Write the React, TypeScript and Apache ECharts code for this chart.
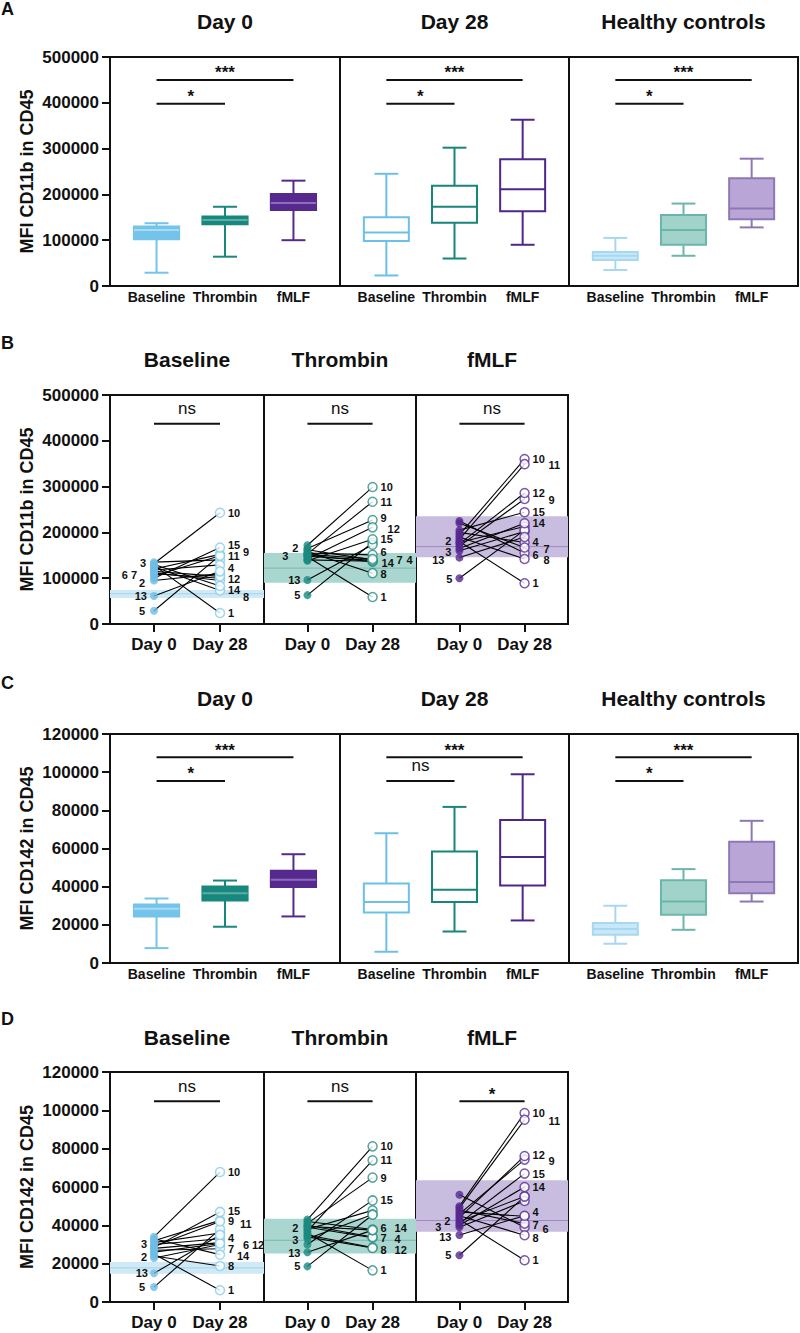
import React, { useEffect, useRef } from 'react';
import * as echarts from 'echarts';

// ---------- categories / text ----------
const stimuli = ['Baseline', 'Thrombin', 'fMLF'];
const timepoints = ['Day 0', 'Day 28'];
const boxGroups = ['Day 0', 'Day 28', 'Healthy controls'];
const cd11bName = 'MFI CD11b in CD45';
const cd142Name = 'MFI CD142 in CD45';

// ---------- box statistics [min, Q1, median, Q3, max], order Baseline, Thrombin, fMLF ----------
const cd11bDay0Box = [
  [29000, 102000, 122000, 130000, 137000],
  [64000, 135000, 144000, 152000, 173000],
  [100000, 166000, 181000, 201000, 230000],
];
const cd11bDay28Box = [
  [23000, 98000, 117000, 150000, 245000],
  [60000, 138000, 173000, 219000, 302000],
  [90000, 163000, 211000, 277000, 363000],
];
const cd11bHCBox = [
  [35000, 57000, 66000, 74000, 105000],
  [66000, 90000, 122000, 155000, 180000],
  [128000, 146000, 169000, 235000, 278000],
];
const cd142Day0Box = [
  [7800, 24400, 28400, 30700, 33800],
  [19000, 32800, 36600, 40100, 43200],
  [24400, 39800, 43600, 48300, 57000],
];
const cd142Day28Box = [
  [5900, 26500, 31900, 41700, 68000],
  [16500, 31900, 38400, 58400, 81800],
  [22300, 40600, 55500, 75000, 98900],
];
const cd142HCBox = [
  [10100, 14800, 17800, 20900, 30000],
  [17400, 25300, 32200, 43400, 49200],
  [32200, 36600, 42500, 63500, 74500],
];

// ---------- paired patient values (index 0 = patient 1) ----------
const cd11bBaselineDay0 = [128000, 95000, 135000, 118000, 29000, 110000, 112000, 125000, 120000, 132000, 105000, 115000, 61000, 130000, 100000];
const cd11bBaselineDay28 = [24000, 110000, 140000, 129000, 150000, 100000, 95000, 73000, 152000, 243000, 149000, 104000, 115000, 83000, 167000];
const cd11bThrombinDay0 = [147000, 162000, 150000, 140000, 63000, 155000, 148000, 158000, 165000, 172000, 153000, 142000, 96000, 152000, 138000];
const cd11bThrombinDay28 = [59000, 140000, 136000, 137000, 178000, 151000, 139000, 111000, 227000, 299000, 267000, 211000, 173000, 142000, 185000];
const cd11bFmlfDay0 = [180000, 178000, 160000, 200000, 100000, 225000, 220000, 190000, 170000, 195000, 185000, 175000, 145000, 165000, 205000];
const cd11bFmlfDay28 = [89000, 213000, 202000, 178000, 205000, 155000, 167000, 142000, 273000, 360000, 349000, 286000, 190000, 220000, 244000];

const cd142BaselineDay0 = [25000, 23000, 31000, 30000, 7800, 28000, 27000, 24000, 32000, 34000, 29000, 26000, 15000, 33000, 28500];
const cd142BaselineDay28 = [6100, 30000, 36000, 33000, 38000, 31000, 27800, 18800, 42600, 67800, 42000, 30500, 35000, 24700, 47000];
const cd142ThrombinDay0 = [36000, 38000, 33000, 39000, 18600, 42000, 40000, 35000, 41000, 43000, 37000, 34000, 26000, 39500, 30000];
const cd142ThrombinDay28 = [16500, 47800, 45700, 33500, 45500, 37800, 33900, 28400, 64900, 81200, 73900, 28200, 37500, 37500, 53000];
const cd142FmlfDay0 = [43000, 42000, 39000, 47000, 24400, 56000, 48000, 45000, 46000, 50000, 49000, 44000, 35000, 40000, 41000];
const cd142FmlfDay28 = [21800, 55100, 52700, 44700, 55000, 39000, 40900, 34800, 74300, 98600, 95100, 76200, 45000, 60000, 67000];

// ---------- significance ----------
const boxSigPairs = [[1, 3], [1, 2]];
const cd11bBoxSigLevels = [450000, 398000];
const cd11bBoxSigText = [['***', '*'], ['***', '*'], ['***', '*']];
const cd142BoxSigLevels = [107800, 95400];
const cd142BoxSigText = [['***', '*'], ['***', 'ns'], ['***', '*']];
const cd11bPairSigLevel = 437000;
const cd11bPairSigText = ['ns', 'ns', 'ns'];
const cd142PairSigLevel = 104700;
const cd142PairSigText = ['ns', 'ns', '*'];

// ---------- patient label layout: [text, day(0/1), patient, dx, dy] ----------
type Lab = [string, number, number, number, number];
const labelsB: Lab[][] = [
  [
    ['3', 0, 3, -8, 1], ['6 7', 0, 6, -17, 1], ['2', 0, 2, -9, 3], ['13', 0, 13, -7, 0], ['5', 0, 5, -9, 0],
    ['10', 1, 10, 8, 0], ['15', 1, 15, 8, -3], ['11', 1, 11, 8, 0], ['9', 1, 9, 23, -2], ['4', 1, 4, 8, 3],
    ['12', 1, 12, 8, 3], ['14', 1, 14, 8, 4], ['8', 1, 8, 23, 6], ['1', 1, 1, 8, 0],
  ],
  [
    ['3', 0, 3, -19, 1], ['2', 0, 2, -9, -2], ['13', 0, 13, -7, 0], ['5', 0, 5, -7, 0],
    ['10', 1, 10, 8, 0], ['11', 1, 11, 8, 0], ['9', 1, 9, 8, -2], ['12', 1, 12, 15, 2], ['15', 1, 15, 8, 0],
    ['6', 1, 6, 8, -3], ['14', 1, 14, 9, 4], ['7', 1, 7, 24, 0], ['4', 1, 4, 34, -1], ['8', 1, 8, 8, 1], ['1', 1, 1, 8, 0],
  ],
  [
    ['2', 0, 2, -8, -1], ['3', 0, 3, -8, 1], ['13', 0, 13, -15, 2], ['5', 0, 5, -7, 1],
    ['10', 1, 10, 8, 0], ['11', 1, 11, 24, 1], ['12', 1, 12, 8, 0], ['9', 1, 9, 24, 1], ['15', 1, 15, 8, 0],
    ['14', 1, 14, 8, 0], ['4', 1, 4, 8, 0], ['7', 1, 7, 19, 1], ['6', 1, 6, 8, 2], ['8', 1, 8, 19, 1], ['1', 1, 1, 8, 0],
  ],
];
const labelsD: Lab[][] = [
  [
    ['3', 0, 3, -7, 1], ['2', 0, 2, -7, -1], ['13', 0, 13, -6, 0], ['5', 0, 5, -9, 0],
    ['10', 1, 10, 8, 0], ['15', 1, 15, 8, -1], ['9', 1, 9, 8, 1], ['11', 1, 11, 20, 2], ['4', 1, 4, 8, -1],
    ['6', 1, 6, 23, 2], ['12', 1, 12, 32, 1], ['7', 1, 7, 8, 0], ['14', 1, 14, 17, 1], ['8', 1, 8, 8, 0], ['1', 1, 1, 8, 0],
  ],
  [
    ['2', 0, 2, -9, -1], ['3', 0, 3, -9, 1], ['13', 0, 13, -7, 1], ['5', 0, 5, -7, 0],
    ['10', 1, 10, 8, 0], ['11', 1, 11, 8, 0], ['9', 1, 9, 8, 0], ['15', 1, 15, 8, 0], ['6', 1, 6, 8, -2],
    ['14', 1, 14, 22, -2], ['7', 1, 7, 8, 1], ['4', 1, 4, 22, 1], ['8', 1, 8, 8, 2], ['12', 1, 12, 22, 2], ['1', 1, 1, 8, 0],
  ],
  [
    ['2', 0, 2, -9, -1], ['3', 0, 3, -18, 0], ['13', 0, 13, -8, 2], ['5', 0, 5, -8, 0],
    ['10', 1, 10, 8, 0], ['11', 1, 11, 24, 1], ['12', 1, 12, 8, -1], ['9', 1, 9, 24, 1], ['15', 1, 15, 8, 0],
    ['14', 1, 14, 8, 0], ['4', 1, 4, 8, -4], ['7', 1, 7, 8, 1], ['6', 1, 6, 18, 2], ['8', 1, 8, 8, 3], ['1', 1, 1, 8, 0],
  ],
];

// ---------- styles ----------
const FONT = "'Liberation Sans', Arial, Helvetica, sans-serif";
const BLACK = '#111111';
const boxStyles = {
  day0: [
    { fill: '#74C3EA', stroke: '#74C3EA', median: '#A9DBF3' },
    { fill: '#18877D', stroke: '#18877D', median: '#5CAEA4' },
    { fill: '#56298F', stroke: '#56298F', median: '#8D6DBA' },
  ],
  day28: [
    { fill: '#ffffff', stroke: '#6CC0E8', median: '#6CC0E8' },
    { fill: '#ffffff', stroke: '#17857B', median: '#17857B' },
    { fill: '#ffffff', stroke: '#4E2689', median: '#4E2689' },
  ],
  hc: [
    { fill: '#C8E7F7', stroke: '#A6D8F1', median: '#A6D8F1' },
    { fill: '#A2D3CB', stroke: '#6BB6AB', median: '#6BB6AB' },
    { fill: '#B9A6D6', stroke: '#8E77B6', median: '#8E77B6' },
  ],
};
const pointColors = ['#6FBDE6', '#1A8A80', '#55288F'];
const openColors = ['#86CCEE', '#2A8F85', '#5A2E92'];
const bandFill = ['#CFE9F6', '#A9D6CF', '#C9BDDF'];
const bandLine = ['#A5D3EC', '#79B8AF', '#9C89C0'];

const BOX_W = 0.66;
const CAP_W = 0.35;

function buildOption() {
  const grid: any[] = [];
  const xAxis: any[] = [];
  const yAxis: any[] = [];
  const series: any[] = [];
  const graphic: any[] = [];

  const title = (text: string, x: number, y: number, size = 21) =>
    graphic.push({
      type: 'text', x, y, silent: true,
      style: { text, fill: BLACK, font: `bold ${size}px ${FONT}`, align: 'center', verticalAlign: 'middle', textAlign: 'center', textVerticalAlign: 'middle' },
    });
  const letter = (text: string, y: number) =>
    graphic.push({
      type: 'text', x: 1, y, silent: true,
      style: { text, fill: BLACK, font: `bold 18px ${FONT}`, align: 'left', verticalAlign: 'middle', textAlign: 'left', textVerticalAlign: 'middle' },
    });

  const yCfg = (gi: number, max: number, interval: number, name: string, first: boolean) => ({
    type: 'value', gridIndex: gi, min: 0, max, interval, show: first,
    name: first ? name : '', nameLocation: 'middle', nameGap: 74, nameRotate: 90,
    nameTextStyle: { fontFamily: FONT, fontWeight: 'bold', fontSize: 18, color: BLACK },
    axisLine: { show: true, lineStyle: { color: BLACK, width: 2 } },
    axisTick: { show: true, length: 8, inside: false, lineStyle: { color: BLACK, width: 2 } },
    axisLabel: { show: true, margin: 11, fontFamily: FONT, fontWeight: 'bold', fontSize: 17, color: BLACK, formatter: (v: number) => String(v) },
    splitLine: { show: false },
  });

  const sigSeries = (gi: number, items: { x0: number; x1: number; y: number; t: string }[]) => ({
    type: 'custom', xAxisIndex: gi, yAxisIndex: gi, z: 8, silent: true,
    data: items.map((it) => [it.x0, it.x1, it.y]),
    encode: { x: [0, 1], y: 2 },
    renderItem: (params: any, api: any) => {
      const it = items[params.dataIndex];
      const p0 = api.coord([api.value(0), api.value(2)]);
      const p1 = api.coord([api.value(1), api.value(2)]);
      const star = it.t.indexOf('*') >= 0;
      return {
        type: 'group',
        children: [
          { type: 'line', shape: { x1: p0[0], y1: p0[1], x2: p1[0], y2: p1[1] }, style: { stroke: BLACK, lineWidth: 2 } },
          {
            type: 'text', x: (p0[0] + p1[0]) / 2, y: p0[1] - (star ? 7 : 15),
            style: { text: it.t, fill: BLACK, font: star ? `bold 17px ${FONT}` : `17px ${FONT}`, align: 'center', verticalAlign: 'middle', textAlign: 'center', textVerticalAlign: 'middle' },
          },
        ],
      };
    },
  });

  // ---- box rows ----
  const boxRow = (top: number, height: number, max: number, interval: number, name: string,
    sets: number[][][], sigLevels: number[], sigText: string[][], titleY: number) => {
    const lefts = [110, 340, 569];
    const widths = [230, 229, 229];
    const styleSets = [boxStyles.day0, boxStyles.day28, boxStyles.hc];
    for (let g = 0; g < 3; g++) {
      const gi = grid.length;
      grid.push({ left: lefts[g], top, width: widths[g], height, show: true, borderColor: BLACK, borderWidth: 2, backgroundColor: 'transparent' });
      xAxis.push({
        type: 'value', gridIndex: gi, min: 0.32, max: 3.68,
        axisLine: { show: false }, axisTick: { show: false }, splitLine: { show: false },
        axisLabel: { customValues: [1, 2, 3], formatter: (v: number) => stimuli[Math.round(v) - 1], margin: 4, fontFamily: FONT, fontWeight: 'bold', fontSize: 14, color: BLACK },
      });
      yAxis.push(yCfg(gi, max, interval, name, g === 0));
      const stats = sets[g];
      const styles = styleSets[g];
      series.push({
        type: 'custom', xAxisIndex: gi, yAxisIndex: gi, z: 4, silent: true,
        data: stats.map((s, i) => [i + 1, ...s]),
        encode: { x: 0, y: [1, 2, 3, 4, 5] },
        renderItem: (params: any, api: any) => {
          const x = api.value(0);
          const st = styles[params.dataIndex];
          const c = (v: number) => api.coord([x, v]);
          const pMin = c(api.value(1)), pQ1 = c(api.value(2)), pMd = c(api.value(3)), pQ3 = c(api.value(4)), pMax = c(api.value(5));
          const hw = api.size([BOX_W, 0])[0] / 2;
          const cw = api.size([CAP_W, 0])[0] / 2;
          const ls = { stroke: st.stroke, lineWidth: 2 };
          return {
            type: 'group',
            children: [
              { type: 'line', shape: { x1: pMax[0], y1: pMax[1], x2: pQ3[0], y2: pQ3[1] }, style: ls },
              { type: 'line', shape: { x1: pMin[0], y1: pMin[1], x2: pQ1[0], y2: pQ1[1] }, style: ls },
              { type: 'line', shape: { x1: pMax[0] - cw, y1: pMax[1], x2: pMax[0] + cw, y2: pMax[1] }, style: ls },
              { type: 'line', shape: { x1: pMin[0] - cw, y1: pMin[1], x2: pMin[0] + cw, y2: pMin[1] }, style: ls },
              { type: 'rect', shape: { x: pQ3[0] - hw, y: pQ3[1], width: 2 * hw, height: pQ1[1] - pQ3[1] }, style: { fill: st.fill, stroke: st.stroke, lineWidth: 2 } },
              { type: 'line', shape: { x1: pMd[0] - hw, y1: pMd[1], x2: pMd[0] + hw, y2: pMd[1] }, style: { stroke: st.median, lineWidth: 2 } },
            ],
          };
        },
      });
      series.push(sigSeries(gi, boxSigPairs.map((p, k) => ({ x0: p[0], x1: p[1], y: sigLevels[k], t: sigText[g][k] }))));
      title(boxGroups[g], lefts[g] + widths[g] / 2, titleY);
    }
  };

  // ---- paired rows ----
  const pairRow = (top: number, height: number, max: number, interval: number, name: string,
    d0: number[][], d28: number[][], hc: number[][], labels: Lab[][], sigLevel: number, sigText: string[], titleY: number) => {
    const lefts = [110, 264, 416];
    const widths = [154, 152, 152];
    const X0 = 1, X1 = 2.5;
    for (let g = 0; g < 3; g++) {
      const gi = grid.length;
      grid.push({ left: lefts[g], top, width: widths[g], height, show: true, borderColor: BLACK, borderWidth: 2, backgroundColor: 'transparent' });
      xAxis.push({
        type: 'value', gridIndex: gi, min: 0, max: 3.5,
        axisLine: { show: true, lineStyle: { color: BLACK, width: 2 } },
        axisTick: { show: true, customValues: [X0, X1], length: 8, inside: false, lineStyle: { color: BLACK, width: 2 } },
        splitLine: { show: false },
        axisLabel: { customValues: [X0, X1], formatter: (v: number) => (v < 1.5 ? timepoints[0] : timepoints[1]), margin: 12, fontFamily: FONT, fontWeight: 'bold', fontSize: 17, color: BLACK },
      });
      yAxis.push(yCfg(gi, max, interval, name, g === 0));
      const a = d0[g];
      const b = d28[g];
      const h = hc[g];
      // healthy-control IQR band with median
      series.push({
        type: 'custom', xAxisIndex: gi, yAxisIndex: gi, z: 1, silent: true,
        data: [[1.75, h[1], h[2], h[3]]],
        encode: { x: 0, y: [1, 2, 3] },
        renderItem: (params: any, api: any) => {
          const cs = params.coordSys;
          const y1 = api.coord([1.75, api.value(1)])[1];
          const ym = api.coord([1.75, api.value(2)])[1];
          const y3 = api.coord([1.75, api.value(3)])[1];
          return {
            type: 'group',
            children: [
              { type: 'rect', shape: { x: cs.x, y: y3, width: cs.width, height: y1 - y3 }, style: { fill: bandFill[g] } },
              { type: 'line', shape: { x1: cs.x, y1: ym, x2: cs.x + cs.width, y2: ym }, style: { stroke: bandLine[g], lineWidth: 1 } },
            ],
          };
        },
      });
      // connecting lines
      series.push({
        type: 'custom', xAxisIndex: gi, yAxisIndex: gi, z: 3, silent: true,
        data: a.map((v, i) => [X0, v, X1, b[i]]),
        encode: { x: [0, 2], y: [1, 3] },
        renderItem: (params: any, api: any) => {
          const p = api.coord([api.value(0), api.value(1)]);
          const q = api.coord([api.value(2), api.value(3)]);
          return { type: 'line', shape: { x1: p[0], y1: p[1], x2: q[0], y2: q[1] }, style: { stroke: '#000', lineWidth: 1.1 } };
        },
      });
      series.push({
        type: 'scatter', xAxisIndex: gi, yAxisIndex: gi, z: 4, silent: true, symbol: 'circle', symbolSize: 8,
        itemStyle: { color: pointColors[g] }, data: a.map((v) => [X0, v]),
      });
      series.push({
        type: 'scatter', xAxisIndex: gi, yAxisIndex: gi, z: 5, silent: true, symbol: 'circle', symbolSize: 9,
        itemStyle: { color: '#ffffff', borderColor: openColors[g], borderWidth: 1.5 }, data: b.map((v) => [X1, v]),
      });
      const labs = labels[g];
      series.push({
        type: 'custom', xAxisIndex: gi, yAxisIndex: gi, z: 6, silent: true,
        data: labs.map((l) => [l[1] === 0 ? X0 : X1, (l[1] === 0 ? a : b)[l[2] - 1]]),
        encode: { x: 0, y: 1 },
        renderItem: (params: any, api: any) => {
          const l = labs[params.dataIndex];
          const p = api.coord([api.value(0), api.value(1)]);
          const al = l[1] === 0 ? 'right' : 'left';
          return {
            type: 'text', x: p[0] + l[3], y: p[1] + l[4],
            style: { text: l[0], fill: BLACK, font: `bold 11px ${FONT}`, align: al, verticalAlign: 'middle', textAlign: al, textVerticalAlign: 'middle' },
          };
        },
      });
      series.push(sigSeries(gi, [{ x0: X0, x1: X1, y: sigLevel, t: sigText[g] }]));
      title(stimuli[g], lefts[g] + widths[g] / 2, titleY);
    }
  };

  boxRow(57, 229, 500000, 100000, cd11bName, [cd11bDay0Box, cd11bDay28Box, cd11bHCBox], cd11bBoxSigLevels, cd11bBoxSigText, 21);
  pairRow(395, 229, 500000, 100000, cd11bName,
    [cd11bBaselineDay0, cd11bThrombinDay0, cd11bFmlfDay0],
    [cd11bBaselineDay28, cd11bThrombinDay28, cd11bFmlfDay28],
    cd11bHCBox, labelsB, cd11bPairSigLevel, cd11bPairSigText, 359);
  boxRow(734, 229, 120000, 20000, cd142Name, [cd142Day0Box, cd142Day28Box, cd142HCBox], cd142BoxSigLevels, cd142BoxSigText, 698);
  pairRow(1072, 230, 120000, 20000, cd142Name,
    [cd142BaselineDay0, cd142ThrombinDay0, cd142FmlfDay0],
    [cd142BaselineDay28, cd142ThrombinDay28, cd142FmlfDay28],
    cd142HCBox, labelsD, cd142PairSigLevel, cd142PairSigText, 1037);

  letter('A', 9);
  letter('B', 343);
  letter('C', 683);
  letter('D', 1019);

  return { animation: false, backgroundColor: '#ffffff', grid, xAxis, yAxis, series, graphic };
}

export default function App() {
  const ref = useRef<HTMLDivElement>(null);
  useEffect(() => {
    if (!ref.current) return;
    const chart = echarts.init(ref.current, undefined, { renderer: 'svg' });
    chart.setOption(buildOption() as any);
    return () => chart.dispose();
  }, []);
  return <div ref={ref} style={{ position: 'absolute', left: 0, top: 0, width: 800, height: 1333 }} />;
}
